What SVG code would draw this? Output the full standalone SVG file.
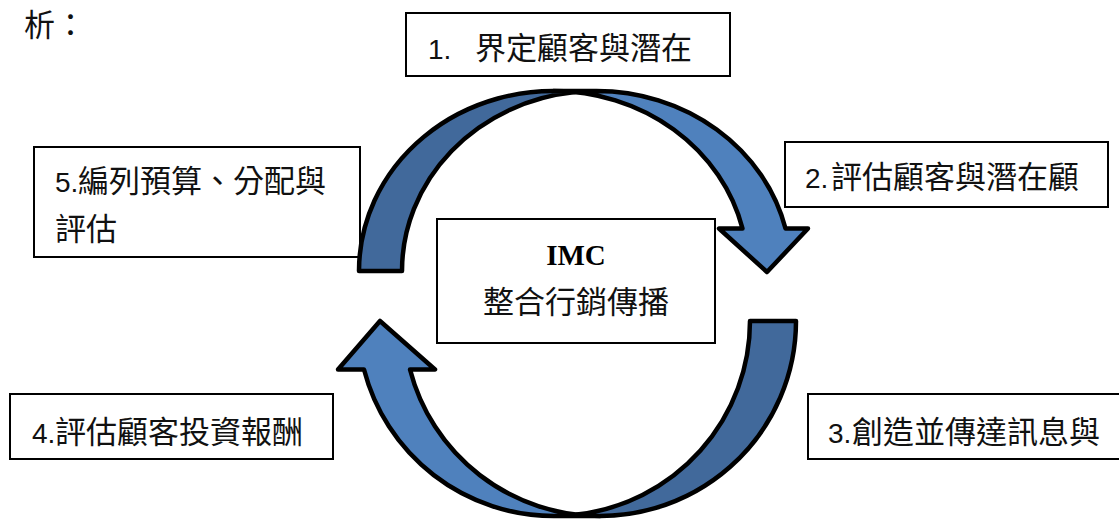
<svg xmlns="http://www.w3.org/2000/svg" width="1119" height="519" viewBox="0 0 1119 519">
<style>
.box{fill:#fff;stroke:#000;stroke-width:2}
.t{font-family:"Noto Sans CJK TC","Noto Sans CJK SC",sans-serif;font-size:31px;fill:#111}
.d{font-family:"Liberation Sans",Arial,sans-serif;font-size:28px;fill:#111}
.arrow{stroke:#000;stroke-width:4.5;stroke-linejoin:round}
.light{fill:#4F81BD}
.dark{fill:#41699B}
</style>
<rect width="1119" height="519" fill="#fff"/>
<text class="t" x="24" y="36" font-size="30">析：</text>

<g id="node-imc">
<rect class="box" x="437" y="219" width="278" height="124"/>
<text x="576" y="265" text-anchor="middle" font-family="'Liberation Serif','DejaVu Serif',serif" font-weight="bold" font-size="29" fill="#000">IMC</text>
<text x="576" y="313" text-anchor="middle" class="t" font-size="32" fill="#000">整合行銷傳播</text>
</g>

<g id="node-1">
<rect class="box" x="406" y="13" width="324" height="63"/>
<text x="428" y="59"><tspan class="d">1.</tspan><tspan class="t" x="475">界定顧客與潛在</tspan></text>
</g>

<g id="node-2">
<rect class="box" x="785" y="142" width="323" height="65"/>
<text x="805" y="187.5"><tspan class="d">2.</tspan><tspan class="t" x="831">評估顧客與潛在顧</tspan></text>
</g>

<g id="node-3">
<rect class="box" x="808" y="394" width="330" height="65"/>
<text x="828" y="443"><tspan class="d">3.</tspan><tspan class="t" x="852">創造並傳達訊息與</tspan></text>
</g>

<g id="node-4">
<rect class="box" x="10" y="394" width="323" height="65"/>
<text x="32" y="443"><tspan class="d">4.</tspan><tspan class="t" x="55">評估顧客投資報酬</tspan></text>
</g>

<g id="node-5">
<rect class="box" x="34" y="147" width="326" height="110"/>
<text x="55" y="192"><tspan class="d" font-size="26">5.</tspan><tspan class="t" x="78" font-size="31.5">編列預算、分配與</tspan></text>
<text class="t" x="55" y="240" font-size="32">評估</text>
</g>

<g id="connectors">
<g id="arrow-top">
<path class="arrow light" d="M 767 272 L 719 228.5 L 742.5 228.5 A 194.5 180 0 0 0 553.5 91 L 596.5 91 A 194.5 180 0 0 1 785.5 228.5 L 808 228.5 Z"/>
<path class="arrow dark" d="M 575 92.1 A 194.5 180 0 0 0 402 271 L 359 271 A 194.5 180 0 0 1 575 92.1 Z"/>
</g>
<g id="arrow-bottom">
<path class="arrow light" d="M 380 321 L 435 369.5 L 410 369.5 A 196 195 0 0 0 600 516 L 554 516 A 196 195 0 0 1 364 369.5 L 338 369.5 Z"/>
<path class="arrow dark" d="M 577 514.6 A 196 195 0 0 0 750 321 L 796 321 A 196 195 0 0 1 577 514.6 Z"/>
</g>
</g>
</svg>
